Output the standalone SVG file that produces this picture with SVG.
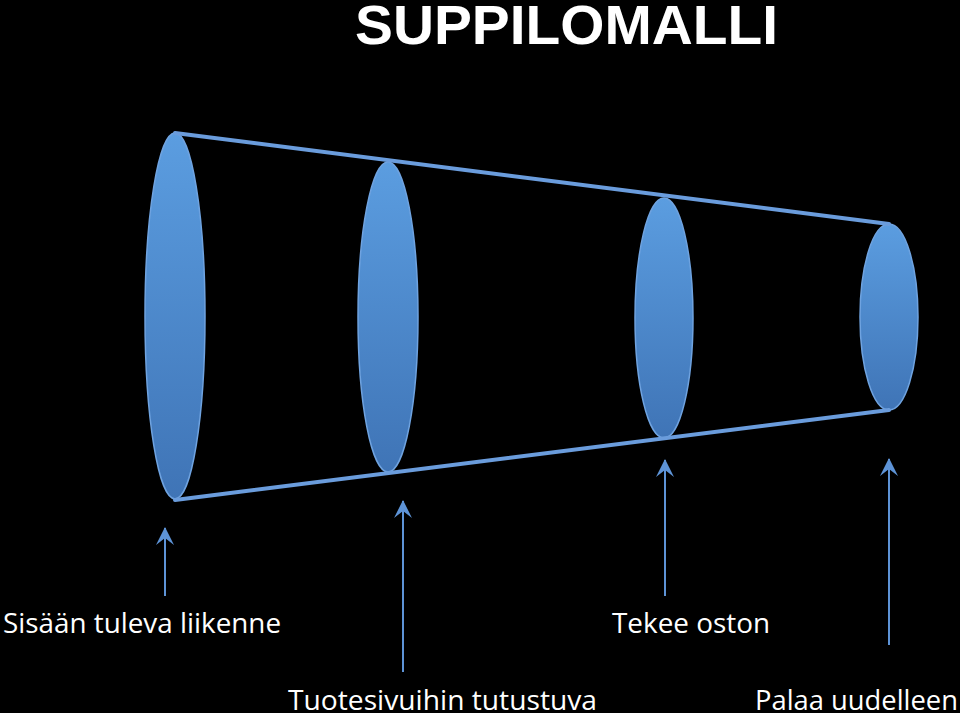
<svg xmlns="http://www.w3.org/2000/svg" width="960" height="713" viewBox="0 0 960 713">
<defs>
<linearGradient id="g" x1="0" y1="0" x2="0" y2="1">
<stop offset="0" stop-color="#5b9de0"/>
<stop offset="1" stop-color="#3f74b6"/>
</linearGradient>
<marker id="ah" viewBox="0 0 18 18" refX="17" refY="9" markerWidth="18" markerHeight="18" markerUnits="userSpaceOnUse" orient="auto">
<path d="M18 9 L0 0 L7 9 L0 18 Z" fill="#5d93d6"/>
</marker>
<style>
.ell{fill:url(#g);stroke:#6fa3e0;stroke-width:1.5}
.rim{stroke:#6a9cdc;stroke-width:4;fill:none;stroke-linecap:round}
.arr{stroke:#5d93d6;stroke-width:2;fill:none}
.lbl{font-family:"Open Sans","Liberation Sans",sans-serif;font-size:28px;fill:#ffffff}
.title{font-family:"Liberation Sans",Arial,sans-serif;font-weight:bold;font-size:55px;fill:#ffffff}
</style>
</defs>
<rect x="0" y="0" width="960" height="713" fill="#000000"/>
<text class="title" x="355" y="44" textLength="423" lengthAdjust="spacingAndGlyphs">SUPPILOMALLI</text>
<g id="funnel">
<g id="e1"><ellipse class="ell" cx="175" cy="316" rx="30" ry="183"/></g>
<g id="e2"><ellipse class="ell" cx="388" cy="317" rx="30" ry="155"/></g>
<g id="e3"><ellipse class="ell" cx="664" cy="318" rx="29" ry="120"/></g>
<g id="e4"><ellipse class="ell" cx="889" cy="317" rx="29" ry="93"/></g>
</g>
<g id="connectors">
<line class="rim" x1="175" y1="133" x2="889" y2="224"/>
<line class="rim" x1="175" y1="500" x2="889" y2="410"/>
<line class="arr" x1="165" y1="596" x2="165" y2="528" marker-end="url(#ah)"/>
<line class="arr" x1="403" y1="672" x2="403" y2="501" marker-end="url(#ah)"/>
<line class="arr" x1="665" y1="596" x2="665" y2="460" marker-end="url(#ah)"/>
<line class="arr" x1="889" y1="645" x2="889" y2="459" marker-end="url(#ah)"/>
</g>
<g id="l1"><text class="lbl" x="3" y="633" textLength="278" lengthAdjust="spacingAndGlyphs">Sisään tuleva liikenne</text></g>
<g id="l2"><text class="lbl" x="288" y="710" textLength="309" lengthAdjust="spacingAndGlyphs">Tuotesivuihin tutustuva</text></g>
<g id="l3"><text class="lbl" x="612" y="633" textLength="158" lengthAdjust="spacingAndGlyphs">Tekee oston</text></g>
<g id="l4"><text class="lbl" x="755" y="710" textLength="203" lengthAdjust="spacingAndGlyphs">Palaa uudelleen</text></g>
</svg>
